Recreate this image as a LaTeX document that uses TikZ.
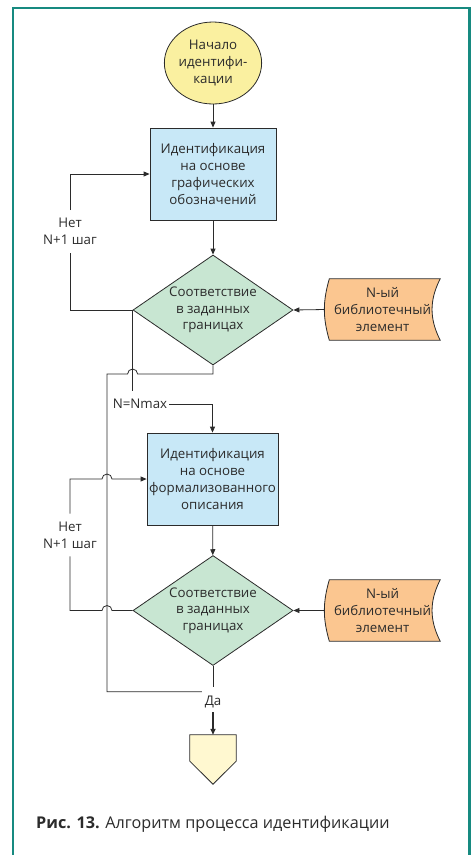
\documentclass[tikz,border=0pt]{standalone}
\usepackage{fontspec}
\setmainfont{Open Sans}
\usetikzlibrary{shapes.geometric,arrows.meta,backgrounds}

\definecolor{frameteal}{HTML}{178A80}
\definecolor{inkgray}{HTML}{2B2B2B}
\definecolor{startfill}{HTML}{FAF0A0}
\definecolor{procfill}{HTML}{C8E8F7}
\definecolor{checkfill}{HTML}{C8E6D2}
\definecolor{libfill}{HTML}{FBC690}
\definecolor{endfill}{HTML}{FFF8D0}

\newcommand{\chartfont}{\fontsize{13.3}{16.7}\selectfont}

\tikzset{
  every node/.style={font=\chartfont, text=inkgray, align=center},
  flowline/.style={draw=inkgray, line width=0.8pt},
  flowarrow/.style={flowline, -{Triangle[length=6pt,width=5pt]}},
  startbox/.style={ellipse, draw=inkgray, line width=0.8pt, fill=startfill,
    minimum width=80pt, minimum height=82pt, inner sep=0pt},
  procbox/.style={rectangle, draw=inkgray, line width=0.8pt, fill=procfill,
    minimum height=92pt, inner sep=0pt},
  checkbox/.style={diamond, aspect=1.45, draw=inkgray, line width=0.8pt,
    fill=checkfill, minimum width=160pt, minimum height=110pt, inner sep=0pt},
  libbox/.style={minimum width=115pt, minimum height=61pt, inner sep=0pt},
  libline/.style={draw=inkgray, line width=0.8pt, fill=libfill},
  lbl/.style={inner xsep=2pt, inner ysep=8pt},
}

\begin{document}
\begin{tikzpicture}[x=1pt,y=1pt]
\useasboundingbox (0,0) rectangle (473,-855);
\draw[frameteal, line width=2.5pt] (13,-870) -- (13,-8) -- (469.5,-8) -- (469.5,-870);

% blocks
\node[startbox] (start) at (213,-63) {Начало\\идентифи-\\кации};
\node[procbox, minimum width=126pt] (ident1) at (213,-174) {Идентификация\\на основе\\графических\\обозначений};
\node[checkbox] (check1) at (213,-310) {Соответствие\\в заданных\\границах};
\node[libbox] (lib1) at (382.5,-309.5) {N-ый\\библиотечный\\элемент};
\node[procbox, minimum width=131pt] (ident2) at (212.5,-479) {Идентификация\\на основе\\формализованного\\описания};
\node[checkbox] (check2) at (213,-610.5) {Соответствие\\в заданных\\границах};
\node[libbox] (lib2) at (382.5,-610.5) {N-ый\\библиотечный\\элемент};
\node[minimum width=46pt, minimum height=49pt, inner sep=0pt] (finish) at (213,-759.5) {};

% labels
\node[lbl] (no1) at (70,-231.5) {Нет\\N+1 шаг};
\node[lbl] (no2) at (70,-535) {Нет\\N+1 шаг};
\node[lbl] (max) at (140,-404) {N=Nmax};
\node[minimum width=22pt, minimum height=20pt, inner sep=0pt] (yes) at (213,-702) {Да};

\coordinate (bend1) at (107,-374);
\coordinate (cross1) at (check1.west |- bend1);
\coordinate (cross2) at (bend1 |- ident2.west);
\coordinate (cross3) at (bend1 |- check2.west);

% library element and end shapes
\begin{scope}[on background layer]
\foreach \libname in {lib1,lib2}
  \draw[libline] ([xshift=4.5pt]\libname.north west) to[bend right=16] ([xshift=4.5pt]\libname.south west)
    -- (\libname.south east) to[bend left=27] (\libname.north east) -- cycle;
\draw[flowline, fill=endfill] (finish.north west) -- (finish.north east) -- ([yshift=23pt]finish.south east)
  -- (finish.south) -- ([yshift=23pt]finish.south west) -- cycle;
\end{scope}

% connectors
\draw[flowarrow] (start) -- (ident1);
\draw[flowarrow] (ident1) -- (check1);
\draw[flowarrow] (lib1.west) -- (check1.east);
\draw[flowline] (check1.west) -| (no1.south);
\draw[flowarrow] (no1.north) |- (ident1.west);
\draw[flowline] (check1.west) -- (check1.west |- max.north);
\draw[flowarrow] (max.east) -| (ident2.north);
\draw[flowline] (check1.south) |- ([xshift=5pt]cross1) arc (0:180:5) -- (bend1) |- (yes.north west);

\draw[flowarrow] (ident2) -- (check2);
\draw[flowarrow] (lib2.west) -- (check2.east);
\draw[flowarrow] (no2.north) |- ([xshift=-5pt]cross2) arc (180:0:5) -- (ident2.west);
\draw[flowline] (check2.west) -- ([xshift=5pt]cross3) arc (0:180:5) -| (no2.south);
\draw[flowline] (check2.south) -- ([yshift=5pt]yes.north);
\draw[flowarrow, line width=1.6pt] (yes.south) -- (finish.north);

% caption
\node[anchor=west, inner sep=0pt, font=\fontsize{16.2}{19}\selectfont, text=inkgray] (caption) at (36,-824)
  {\textbf{Рис. 13.} Алгоритм процесса идентификации};
\end{tikzpicture}
\end{document}
